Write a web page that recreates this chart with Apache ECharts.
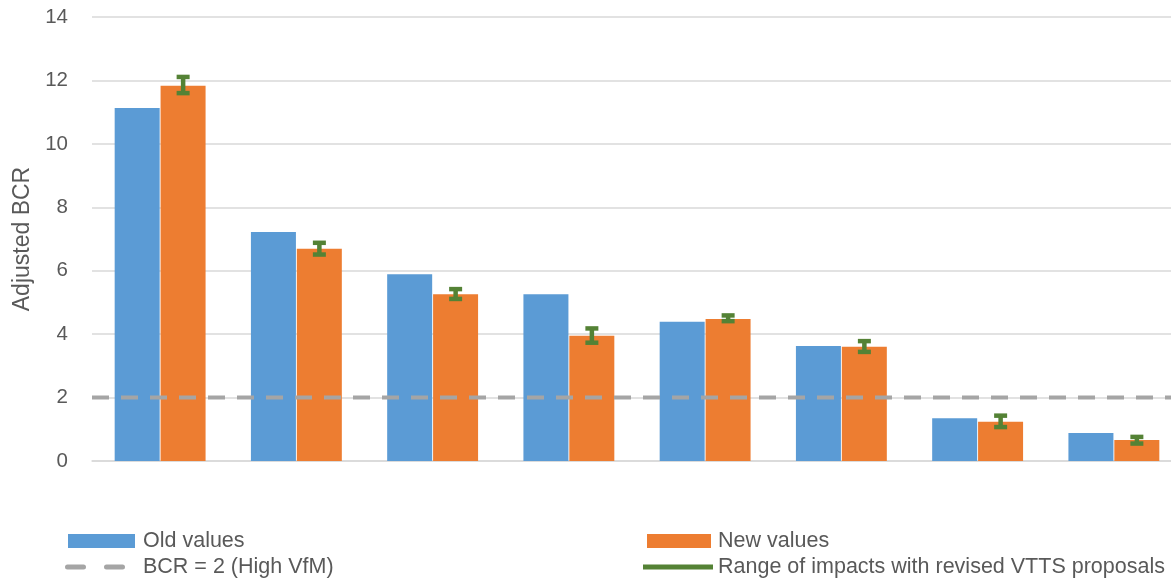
<!DOCTYPE html>
<html>
<head>
<meta charset="utf-8">
<script src="https://cdn.jsdelivr.net/npm/echarts@6/dist/echarts.min.js"></script>
<style>html,body{margin:0;padding:0;background:#fff;overflow:hidden;width:1171px;height:580px;}#c{width:1182px;height:580px;}</style>
</head>
<body>
<div id="c"></div>
<script>
var categories = ['A', 'B', 'C', 'D', 'E', 'F', 'G', 'H'];
var oldValues = [11.13, 7.22, 5.89, 5.26, 4.39, 3.63, 1.35, 0.88];
var newValues = [11.83, 6.69, 5.26, 3.95, 4.48, 3.60, 1.24, 0.66];
var errLow = [11.60, 6.51, 5.11, 3.73, 4.41, 3.44, 1.07, 0.55];
var errHigh = [12.11, 6.88, 5.42, 4.18, 4.59, 3.78, 1.43, 0.76];
var bcrLevel = 2;
var yTicks = [0, 2, 4, 6, 8, 10, 12, 14];

var FONT = 'Liberation Sans';
var TXT = '#595959';
var LFS = 21.5;

var errData = categories.map(function (c, i) { return [i, errLow[i], errHigh[i]]; });

var chart = echarts.init(document.getElementById('c'), null, {renderer: 'canvas'});
chart.setOption({
  animation: false,
  textStyle: {fontFamily: FONT},
  grid: {left: 92, right: 0, top: 17, bottom: 119, containLabel: false},
  xAxis: [
    {type: 'category', data: categories, axisLine: {lineStyle: {color: '#d9d9d9', width: 1.5}},
     axisTick: {show: false}, axisLabel: {show: false}},
    {type: 'value', min: 0, max: 1, show: false}
  ],
  yAxis: {
    type: 'value', min: yTicks[0], max: yTicks[yTicks.length - 1], interval: 2,
    name: 'Adjusted BCR', nameLocation: 'middle', nameGap: 58,
    nameTextStyle: {color: TXT, fontSize: 23, fontFamily: FONT},
    axisLine: {show: false}, axisTick: {show: false},
    axisLabel: {color: TXT, fontSize: 20.5, margin: 24, fontFamily: FONT},
    splitLine: {lineStyle: {color: '#d9d9d9', width: 1.5}}
  },
  legend: [
    {left: 68, top: 530, padding: 0, itemWidth: 67, itemHeight: 14, itemGap: 0,
     textStyle: {color: TXT, fontSize: LFS, fontFamily: FONT, padding: [0, 0, 0, 3]},
     data: [{name: 'Old values', icon: 'rect'}]},
    {left: 65, top: 556, padding: 0, itemWidth: 60, itemHeight: 5, itemGap: 0,
     textStyle: {color: TXT, fontSize: LFS, fontFamily: FONT, padding: [0, 0, 0, 13]},
     data: [{name: 'BCR = 2 (High VfM)',
             icon: 'path://M2.5,0h16a2.5,2.5 0 0 1 0,5h-16a2.5,2.5 0 0 1 0,-5z M41.5,0h16a2.5,2.5 0 0 1 0,5h-16a2.5,2.5 0 0 1 0,-5z',
             itemStyle: {color: '#a5a5a5'}}]},
    {left: 647, top: 530, padding: 0, itemWidth: 64, itemHeight: 14, itemGap: 0,
     textStyle: {color: TXT, fontSize: LFS, fontFamily: FONT, padding: [0, 0, 0, 2]},
     data: [{name: 'New values', icon: 'rect'}]},
    {left: 643, top: 556, padding: 0, itemWidth: 70, itemHeight: 5, itemGap: 0,
     textStyle: {color: TXT, fontSize: LFS, fontFamily: FONT},
     data: [{name: 'Range of impacts with revised VTTS proposals', icon: 'rect', itemStyle: {color: '#548235'}}]}
  ],
  series: [
    {name: 'Old values', type: 'bar', data: oldValues, barWidth: 45, barGap: '2%',
     itemStyle: {color: '#5b9bd5'}, z: 2},
    {name: 'New values', type: 'bar', data: newValues, barWidth: 45, barGap: '2%',
     itemStyle: {color: '#ed7d31'}, z: 2},
    {name: 'BCR = 2 (High VfM)', type: 'line', xAxisIndex: 1, yAxisIndex: 0,
     data: [[0, bcrLevel], [1, bcrLevel]], symbol: 'none', z: 5,
     lineStyle: {color: '#a5a5a5', width: 4, type: [17, 12], cap: 'butt'},
     itemStyle: {color: '#a5a5a5'}},
    {name: 'Range of impacts with revised VTTS proposals', type: 'custom', xAxisIndex: 0, yAxisIndex: 0,
     data: errData, encode: {x: 0, y: [1, 2]}, z: 6,
     itemStyle: {color: '#548235'},
     renderItem: function (params, api) {
       var idx = api.value(0);
       var lo = api.coord([idx, api.value(1)]);
       var hi = api.coord([idx, api.value(2)]);
       var x = lo[0] + 23;
       var half = 6.5;
       var st = {stroke: '#548235', lineWidth: 4.5, fill: null};
       return {type: 'group', children: [
         {type: 'line', shape: {x1: x, y1: lo[1], x2: x, y2: hi[1]}, style: st},
         {type: 'line', shape: {x1: x - half, y1: lo[1], x2: x + half, y2: lo[1]}, style: st},
         {type: 'line', shape: {x1: x - half, y1: hi[1], x2: x + half, y2: hi[1]}, style: st}
       ]};
     }}
  ]
});
</script>
</body>
</html>
